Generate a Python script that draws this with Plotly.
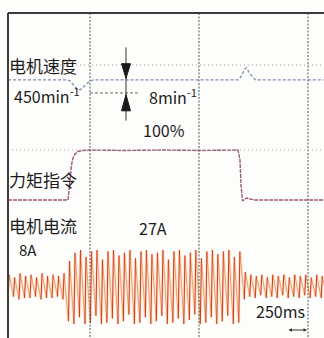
import plotly.graph_objects as go

# ---- time base (ms) -------------------------------------------------------
T_START = 62.0          # left edge of the trace window
T_END = 786.7
DIV_MS = 250            # horizontal division

# ---- motor speed (min^-1) -------------------------------------------------
speed_t = [62, 199, 204, 212, 220, 228, 236, 248, 258, 589, 594, 600, 606, 609, 614, 622, 630, 786]
speed_v = [450, 450, 449.5, 447, 444.5, 444, 446, 449, 450, 450, 451, 454, 457, 457.5, 455, 452, 450, 450]

# ---- torque command (%) ----------------------------------------------------
torque_t = [62, 199.6, 201.9, 204.2, 207.6, 211, 215.6, 222.5, 231.7, 250, 330, 420, 500, 589.5,
            594, 596.4, 599.8, 605.5, 610, 617, 628, 700, 786]
torque_v = [0, 0, 20, 44, 70, 84, 92, 97, 99, 100, 99, 100, 99, 100,
            80, 30, -2, 2, 4, 2, 0, 0, 0]

# ---- motor current (A): positive / negative peak of every cycle -------------
CUR_PERIOD_MS = 12.6
cur_peak = [9, 7, 10, 8, 9, 7, 10, 8, 9, 8, 10,
            19, 25, 27, 22, 26, 27, 20, 26, 27, 23, 25, 27, 21, 26, 27, 24,
            25, 27, 20, 26, 27, 23, 25, 27, 21, 26, 27, 24, 26, 27, 22, 26,
            11, 9, 8, 9, 7, 9, 8, 9, 7, 9, 8, 9, 7, 9, 8]
cur_trough = [-8, -7, -9, -8, -8, -7, -9, -8, -8, -7, -9,
              -25, -27, -22, -27, -26, -21, -27, -26, -23, -27, -25, -20, -27, -26, -22, -27,
              -25, -21, -27, -26, -23, -27, -24, -20, -27, -26, -22, -27, -25, -21, -27, -26,
              -9, -7, -8, -6, -8, -7, -8, -6, -8, -7, -8, -6, -8, -7, -8]

W, H = 324, 338


def px_x(p):
    return p / W


def px_y(p):
    return 1 - p / H


# rising edges and falling edges of the current waveform
rise_x, rise_y, fall_x, fall_y, all_x, all_y = [], [], [], [], [], []
n = len(cur_peak)
for i in range(n):
    t0 = T_START + i * CUR_PERIOD_MS
    tp = t0 + 0.2 * CUR_PERIOD_MS
    t1 = t0 + CUR_PERIOD_MS
    nxt = cur_trough[min(i + 1, n - 1)]
    rise_x += [t0, tp, None]
    rise_y += [cur_trough[i], cur_peak[i], None]
    fall_x += [tp, t1, None]
    fall_y += [cur_peak[i], nxt, None]
    all_x += [t0, tp]
    all_y += [cur_trough[i], cur_peak[i]]

fig = go.Figure()

fig.add_trace(go.Scatter(x=all_x, y=all_y, yaxis="y3", mode="lines",
                         line=dict(color="rgba(245,185,140,0.30)", width=3), hoverinfo="skip"))
fig.add_trace(go.Scatter(x=fall_x, y=fall_y, yaxis="y3", mode="lines",
                         line=dict(color="#eb9a5c", width=0.9), hoverinfo="skip"))
fig.add_trace(go.Scatter(x=rise_x, y=rise_y, yaxis="y3", mode="lines",
                         line=dict(color="#d2401e", width=1.1), hoverinfo="skip"))

fig.add_trace(go.Scatter(x=speed_t, y=speed_v, yaxis="y", mode="lines",
                         line=dict(color="#7d8fb0", width=1.3, dash="3px,2px"), hoverinfo="skip"))
fig.add_trace(go.Scatter(x=torque_t, y=torque_v, yaxis="y2", mode="lines",
                         line=dict(color="#9c5878", width=1.4, dash="4px,1px"), hoverinfo="skip"))

shapes = []
# major vertical divisions
for t in (250, 500, 750):
    shapes.append(dict(type="line", xref="x", yref="paper", x0=t, x1=t,
                       y0=px_y(13), y1=0, line=dict(color="#555", width=1, dash="2px,1.5px")))
# horizontal dotted divisions
for yp in (65, 150):
    shapes.append(dict(type="line", xref="paper", yref="paper", x0=px_x(8), x1=1,
                       y0=px_y(yp), y1=px_y(yp), line=dict(color="#a0a0a0", width=1, dash="1px,3px")))
# frame
shapes.append(dict(type="line", xref="paper", yref="paper", x0=px_x(8), x1=1,
                   y0=px_y(13), y1=px_y(13), line=dict(color="#3c3c3c", width=2)))
shapes.append(dict(type="line", xref="paper", yref="paper", x0=px_x(8), x1=px_x(8),
                   y0=px_y(13), y1=0, line=dict(color="#3c3c3c", width=2)))

# 8 min^-1 speed-dip marker
ARROW_T = 332.6
HW = 10.3
shapes.append(dict(type="line", xref="x", yref="y", x0=250, x1=365, y0=442, y1=442,
                   line=dict(color="#666", width=1, dash="3px,2px")))
shapes.append(dict(type="line", xref="x", yref="y", x0=ARROW_T, x1=ARROW_T, y0=470, y1=425,
                   line=dict(color="#333", width=1)))
shapes.append(dict(type="path", xref="x", yref="y",
                   path=f"M {ARROW_T - HW},460 L {ARROW_T + HW},460 L {ARROW_T},451 Z",
                   fillcolor="#1a1a1a", line=dict(color="#1a1a1a", width=1)))
shapes.append(dict(type="path", xref="x", yref="y",
                   path=f"M {ARROW_T - HW},431 L {ARROW_T + HW},431 L {ARROW_T},441 Z",
                   fillcolor="#1a1a1a", line=dict(color="#1a1a1a", width=1)))

FONT = "Noto Sans CJK SC, Noto Sans, sans-serif"
TXT = "#1c1c1c"


def label(text, xp, yp, size):
    return dict(text=text, x=px_x(xp), y=px_y(yp), xref="paper", yref="paper",
                xanchor="left", yanchor="middle", showarrow=False,
                font=dict(family=FONT, size=size, color=TXT))


annotations = [
    label("电机速度", 7, 65, 17),
    label("450min<sup>-1</sup>", 12, 95, 16),
    label("8min<sup>-1</sup>", 147, 96, 16),
    label("100%", 141, 130, 16),
    label("力矩指令", 7, 179, 17),
    label("电机电流", 7, 225, 17),
    label("8A", 17, 249, 15),
    label("27A", 137, 228, 16),
    label("250ms", 254, 311, 16),
    dict(x=px_x(307), y=px_y(330), xref="paper", yref="paper", ax=-20, ay=0,
         axref="pixel", ayref="pixel", showarrow=True, arrowside="end+start",
         arrowhead=2, arrowsize=0.7, arrowwidth=1, arrowcolor="#333", text=""),
]

fig.update_layout(
    width=W, height=H,
    margin=dict(l=0, r=0, t=0, b=0),
    paper_bgcolor="#fdfdfb", plot_bgcolor="#fdfdfb",
    showlegend=False,
    xaxis=dict(range=[43.6, T_END], visible=False),
    yaxis=dict(range=[291.2, 499.2], visible=False),
    yaxis2=dict(range=[-276, 400], overlaying="y", visible=False),
    yaxis3=dict(range=[-37.2, 209.5], overlaying="y", visible=False),
    shapes=shapes,
    annotations=annotations,
)

fig.write_html("out.html")
